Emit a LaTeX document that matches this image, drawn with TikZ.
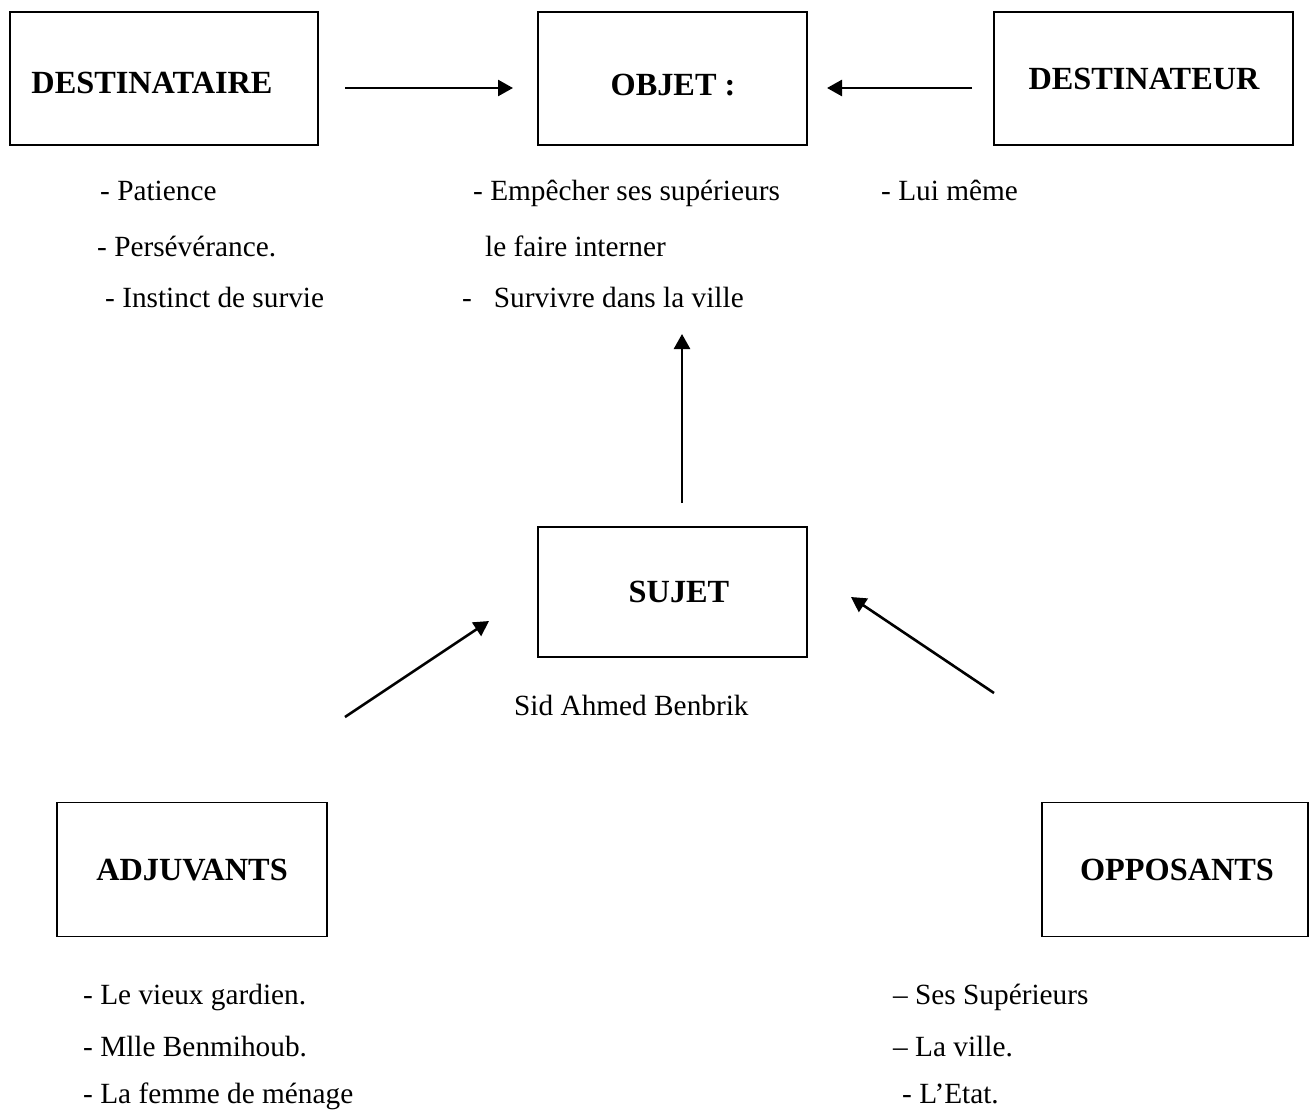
\documentclass[tikz,border=0pt]{standalone}
\usepackage{fontspec}
\setmainfont{Liberation Serif}
\usetikzlibrary{arrows.meta}
\begin{document}
\begin{tikzpicture}[x=1pt,y=-1pt,
  box/.style={draw,line width=1.3pt,inner sep=0pt},
  lbl/.style={inner sep=0pt,font=\fontsize{32.3}{36}\selectfont\bfseries},
  item/.style={anchor=base west,inner sep=0pt,font=\fontsize{29.3}{34}\selectfont},
  conn/.style={line width=2.6pt,-{Triangle[length=15pt,width=16pt]}}]
\useasboundingbox (0,0) rectangle (1309,1111);
% boxes
\node[box,minimum width=308pt,minimum height=133pt] (dtaire) at (164,78.5) {};
\node[box,minimum width=269pt,minimum height=133pt] (objet) at (672.5,78.5) {};
\node[box,minimum width=299pt,minimum height=133pt] (dteur) at (1143.5,78.5) {};
\node[box,minimum width=269pt,minimum height=130pt] (sujet) at (672.5,592) {};
\node[box,minimum width=270pt,minimum height=134pt] (adj) at (192,869.5) {};
\node[box,minimum width=266pt,minimum height=134pt] (opp) at (1175,869.5) {};
% labels
\node[lbl] (dtairel) at (152,83) {DESTINATAIRE};
\node[lbl] (objetl) at (673,85) {OBJET :};
\node[lbl] (dteurl) at (1144,79) {DESTINATEUR};
\node[lbl] (sujetl) at (679,592) {SUJET};
\node[lbl] (adjl) at (192,870) {ADJUVANTS};
\node[lbl] (oppl) at (1177,870) {OPPOSANTS};
% arrow end points
\coordinate (a1s) at (345,88);
\coordinate (a1e) at (513,88);
\coordinate (a2s) at (972,88);
\coordinate (a2e) at (827,88);
\coordinate (a3s) at (682,503);
\coordinate (a3e) at (682,334);
\coordinate (a4s) at (345,717);
\coordinate (a4e) at (489,621);
\coordinate (a5s) at (994,693);
\coordinate (a5e) at (851,597);
\draw[conn] (a1s) -- (a1e);
\draw[conn] (a2s) -- (a2e);
\draw[conn] (a3s) -- (a3e);
\draw[conn] (a4s) -- (a4e);
\draw[conn] (a5s) -- (a5e);
% texts
\node[item] (t1) at (100,200) {- Patience};
\node[item] (t2) at (97,256) {- Persévérance.};
\node[item] (t3) at (105,307) {- Instinct de survie};
\node[item] (t4) at (473,200) {- Empêcher ses supérieurs};
\node[item] (t5) at (485,256) {le faire interner};
\node[item] (t6) at (462,307) {-~~~Survivre dans la ville};
\node[item] (t7) at (881,200) {- Lui même};
\node[item] (t8) at (514,715) {Sid Ahmed Benbrik};
\node[item] (t9) at (83,1004) {- Le vieux gardien.};
\node[item] (t10) at (83,1056) {- Mlle Benmihoub.};
\node[item] (t11) at (83,1103) {- La femme de ménage};
\node[item] (t12) at (893,1004) {– Ses Supérieurs};
\node[item] (t13) at (893,1056) {– La ville.};
\node[item] (t14) at (902,1103) {- L’Etat.};
\end{tikzpicture}
\end{document}
